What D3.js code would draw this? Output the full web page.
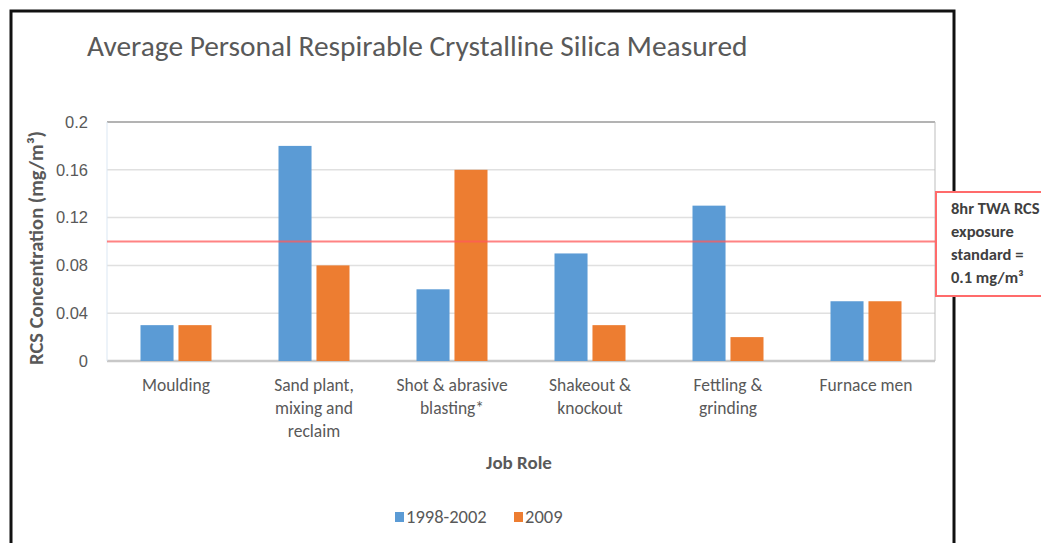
<!DOCTYPE html>
<html>
<head>
<meta charset="utf-8">
<script src="https://cdn.jsdelivr.net/npm/d3@7"></script>
<style>
  body { margin: 0; background: #fff; }
  svg { display: block; font-family: Carlito, "Open Sans", "Liberation Sans", sans-serif; }
</style>
</head>
<body>
<div id="chart"></div>
<script>
// chart data
const jobRoles = [
  ["Moulding"],
  ["Sand plant,", "mixing and", "reclaim"],
  ["Shot & abrasive", "blasting*"],
  ["Shakeout &", "knockout"],
  ["Fettling &", "grinding"],
  ["Furnace men"]
]
const seriesNames = ["1998-2002", "2009"]
const values1998 = [0.03, 0.18, 0.06, 0.09, 0.13, 0.05]
const values2009 = [0.03, 0.08, 0.16, 0.03, 0.02, 0.05]
const yTicks = [0, 0.04, 0.08, 0.12, 0.16, 0.2]
const limitValue = 0.1
const limitLabel = ["8hr TWA RCS", "exposure", "standard =", "0.1 mg/m\u00b3"]

const colors = ["#5b9bd5", "#ed7d31"]

let svgWidth = 1041
let svgHeight = 543
const svg = d3.select("#chart").append("svg")
    .attr("width", svgWidth)
    .attr("height", svgHeight)

const plot = {left: 107, right: 935, top: 122, bottom: 361}

// outer frame
svg.append("rect")
    .attr("x", 11).attr("y", 11)
    .attr("width", 943).attr("height", 560)
    .attr("fill", "none")
    .attr("stroke", "#111")
    .attr("stroke-width", 3)

svg.append("text")
    .attr("x", 87).attr("y", 56)
    .attr("font-size", 29.4)
    .attr("fill", "#595959")
    .text("Average Personal Respirable Crystalline Silica Measured")

const x = d3.scaleBand()
    .domain(d3.range(jobRoles.length))
    .range([plot.left, plot.right])

const x1 = d3.scaleBand()
    .domain(seriesNames)
    .range([0, 71])
    .paddingInner(0.13)

const y = d3.scaleLinear()
    .domain([0, 0.2])
    .range([plot.bottom, plot.top])

// gridlines
svg.append("g")
    .selectAll("line")
    .data(yTicks)
    .enter()
    .append("line")
    .attr("x1", plot.left).attr("x2", plot.right)
    .attr("y1", d => y(d)).attr("y2", d => y(d))
    .attr("stroke", d => d === 0.2 ? "#9a9a9a" : "#e0e0e0")
    .attr("stroke-width", d => d === 0 ? 2.5 : 1.5)
    .filter(d => d === 0).attr("stroke", "#c8c8c8")

// plot border sides
svg.append("line")
    .attr("x1", plot.left).attr("x2", plot.left)
    .attr("y1", plot.top).attr("y2", plot.bottom)
    .attr("stroke", "#dbe7f3")
svg.append("line")
    .attr("x1", plot.right).attr("x2", plot.right)
    .attr("y1", plot.top).attr("y2", plot.bottom)
    .attr("stroke", "#bdbdbd")

// y axis
const yAxis = d3.axisLeft(y)
    .tickValues(yTicks)
    .tickSize(0)
    .tickPadding(19)
    .tickFormat(d => d3.format("")(+d.toFixed(2)))
const yg = svg.append("g")
    .attr("transform", `translate(${plot.left},0)`)
    .call(yAxis)
yg.select(".domain").remove()
yg.selectAll("text")
    .attr("font-size", 16.5)
    .attr("fill", "#595959")
    .attr("font-family", null)

svg.append("text")
    .attr("transform", "translate(43,248) rotate(-90)")
    .attr("text-anchor", "middle")
    .attr("font-size", 20.5)
    .attr("font-weight", "bold")
    .attr("fill", "#595959")
    .text("RCS Concentration (mg/m\u00b3)")

// bars
const groups = svg.append("g")
    .selectAll("g")
    .data(jobRoles.map((r, i) => [values1998[i], values2009[i]]))
    .enter()
    .append("g")
    .attr("transform", (d, i) => `translate(${x(i) + x.bandwidth() / 2 - 35.5},0)`)

groups.selectAll("rect")
    .data(d => d.map((v, j) => ({v: v, s: seriesNames[j], j: j})))
    .enter()
    .append("rect")
    .attr("x", d => x1(d.s))
    .attr("width", x1.bandwidth())
    .attr("y", d => y(d.v))
    .attr("height", d => plot.bottom - y(d.v))
    .attr("fill", d => colors[d.j])

// limit line
svg.append("line")
    .attr("x1", plot.left).attr("x2", plot.right)
    .attr("y1", y(limitValue)).attr("y2", y(limitValue))
    .attr("stroke", "#ff5a5a")
    .attr("stroke-opacity", 0.75)
    .attr("stroke-width", 2)

// category labels
const xLabels = svg.append("g")
    .selectAll("text")
    .data(jobRoles)
    .enter()
    .append("text")
    .attr("x", (d, i) => x(i) + x.bandwidth() / 2)
    .attr("y", 391)
    .attr("text-anchor", "middle")
    .attr("font-size", 17.5)
    .attr("fill", "#595959")
xLabels.selectAll("tspan")
    .data(d => d)
    .enter()
    .append("tspan")
    .attr("x", function () { return this.parentNode.getAttribute("x") })
    .attr("dy", (d, i) => i === 0 ? 0 : 23)
    .text(d => d)

svg.append("text")
    .attr("x", 519)
    .attr("y", 469)
    .attr("text-anchor", "middle")
    .attr("font-size", 19)
    .attr("font-weight", "bold")
    .attr("fill", "#595959")
    .text("Job Role")

// legend
const legend = svg.append("g")
    .attr("transform", "translate(395,523)")
const legendStarts = [0, 119]
const legendItems = legend.selectAll("g")
    .data(seriesNames)
    .enter()
    .append("g")
    .attr("transform", (d, i) => `translate(${legendStarts[i]},0)`)
legendItems.append("rect")
    .attr("x", 0).attr("y", -11)
    .attr("width", 9).attr("height", 10)
    .attr("fill", (d, i) => colors[i])
legendItems.append("text")
    .attr("x", 11).attr("y", 0)
    .attr("font-size", 18.5)
    .attr("fill", "#595959")
    .text(d => d)

// annotation box
svg.append("rect")
    .attr("x", 936).attr("y", 192)
    .attr("width", 120).attr("height", 104)
    .attr("fill", "#fff")
    .attr("stroke", "#ff6b6b")
    .attr("stroke-width", 2)
svg.append("g")
    .selectAll("text")
    .data(limitLabel)
    .enter()
    .append("text")
    .attr("x", 951)
    .attr("y", (d, i) => 214 + i * 23)
    .attr("font-size", 16.5)
    .attr("font-weight", "bold")
    .attr("fill", "#404040")
    .text(d => d)
</script>
</body>
</html>
